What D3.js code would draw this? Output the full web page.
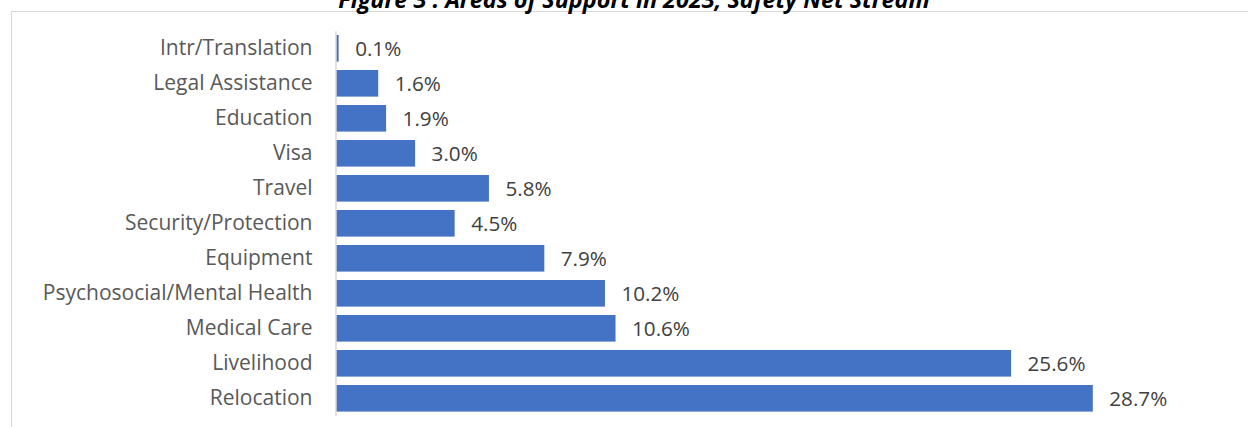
<!DOCTYPE html>
<html>
<head>
<meta charset="utf-8">
<script src="https://cdn.jsdelivr.net/npm/d3@7/dist/d3.min.js"></script>
<style>
  html, body { margin: 0; padding: 0; background: #fff; }
  svg { display: block; }
  text { font-family: "Open Sans", "Noto Sans", sans-serif; }
</style>
</head>
<body>
<svg id="chart" width="1248" height="427"></svg>
<script>
// Areas of support, share of requests (%), top row first
const categories = [
  "Intr/Translation", "Legal Assistance", "Education", "Visa", "Travel",
  "Security/Protection", "Equipment", "Psychosocial/Mental Health",
  "Medical Care", "Livelihood", "Relocation"
];
const shares = [0.1, 1.6, 1.9, 3.0, 5.8, 4.5, 7.9, 10.2, 10.6, 25.6, 28.7];
const titleText = "Figure 3 : Areas of Support in 2023, Safety Net Stream";

const data = categories.map((c, i) => ({ category: c, value: shares[i] }));

const svg = d3.select("#chart");
const W = 1248, H = 427;

const x = d3.scaleLinear().domain([0, 30]).range([336, 336 + 30 * 26.37]);
const y = d3.scaleBand().domain(categories).range([30.8, 415.8])
  .paddingInner(0.24).paddingOuter(0.12);

// size a font so that a sample string spans a given width
function fitSize(sample, width, weight, style) {
  const t = svg.append("text").attr("font-size", 20)
    .attr("font-weight", weight || "normal").attr("font-style", style || "normal")
    .text(sample);
  const w = t.node().getComputedTextLength();
  t.remove();
  return 20 * width / w;
}
const labelSize = fitSize("Psychosocial/Mental Health", 270);
const valueSize = fitSize("28.7%", 58);
const titleSize = fitSize(titleText, 592, "bold", "italic");

// chart frame (top and left edges are the visible part)
svg.append("line").attr("x1", 11.5).attr("x2", W).attr("y1", 11.5).attr("y2", 11.5)
  .attr("stroke", "#d9d9d9").attr("stroke-width", 1.2);
svg.append("line").attr("x1", 11.5).attr("x2", 11.5).attr("y1", 11.5).attr("y2", H)
  .attr("stroke", "#d9d9d9").attr("stroke-width", 1.2);

// title
svg.append("text")
  .attr("x", 634).attr("y", 8)
  .attr("text-anchor", "middle")
  .attr("font-size", titleSize).attr("font-weight", "bold").attr("font-style", "italic")
  .attr("fill", "#000")
  .text(titleText);

// bars
svg.append("g").selectAll("rect").data(data).join("rect")
  .attr("x", x(0))
  .attr("y", d => y(d.category))
  .attr("width", d => x(d.value) - x(0))
  .attr("height", y.bandwidth())
  .attr("fill", "#4472c4");

// category axis
const axis = d3.axisLeft(y).tickSize(0).tickPadding(23);
const gAxis = svg.append("g").attr("transform", `translate(335.5,0)`).call(axis);
gAxis.select(".domain").attr("stroke", "#d9d9d9").attr("stroke-width", 1.5);
gAxis.selectAll("text")
  .attr("font-size", labelSize)
  .attr("fill", "#595959")
  .style("font-family", "'Open Sans', 'Noto Sans', sans-serif");

// value labels
svg.append("g").selectAll("text").data(data).join("text")
  .attr("x", d => x(d.value) + 16.5)
  .attr("y", d => y(d.category) + y.bandwidth() / 2)
  .attr("dy", "0.35em")
  .attr("font-size", valueSize)
  .attr("fill", "#404040")
  .text(d => d.value.toFixed(1) + "%");
</script>
</body>
</html>
